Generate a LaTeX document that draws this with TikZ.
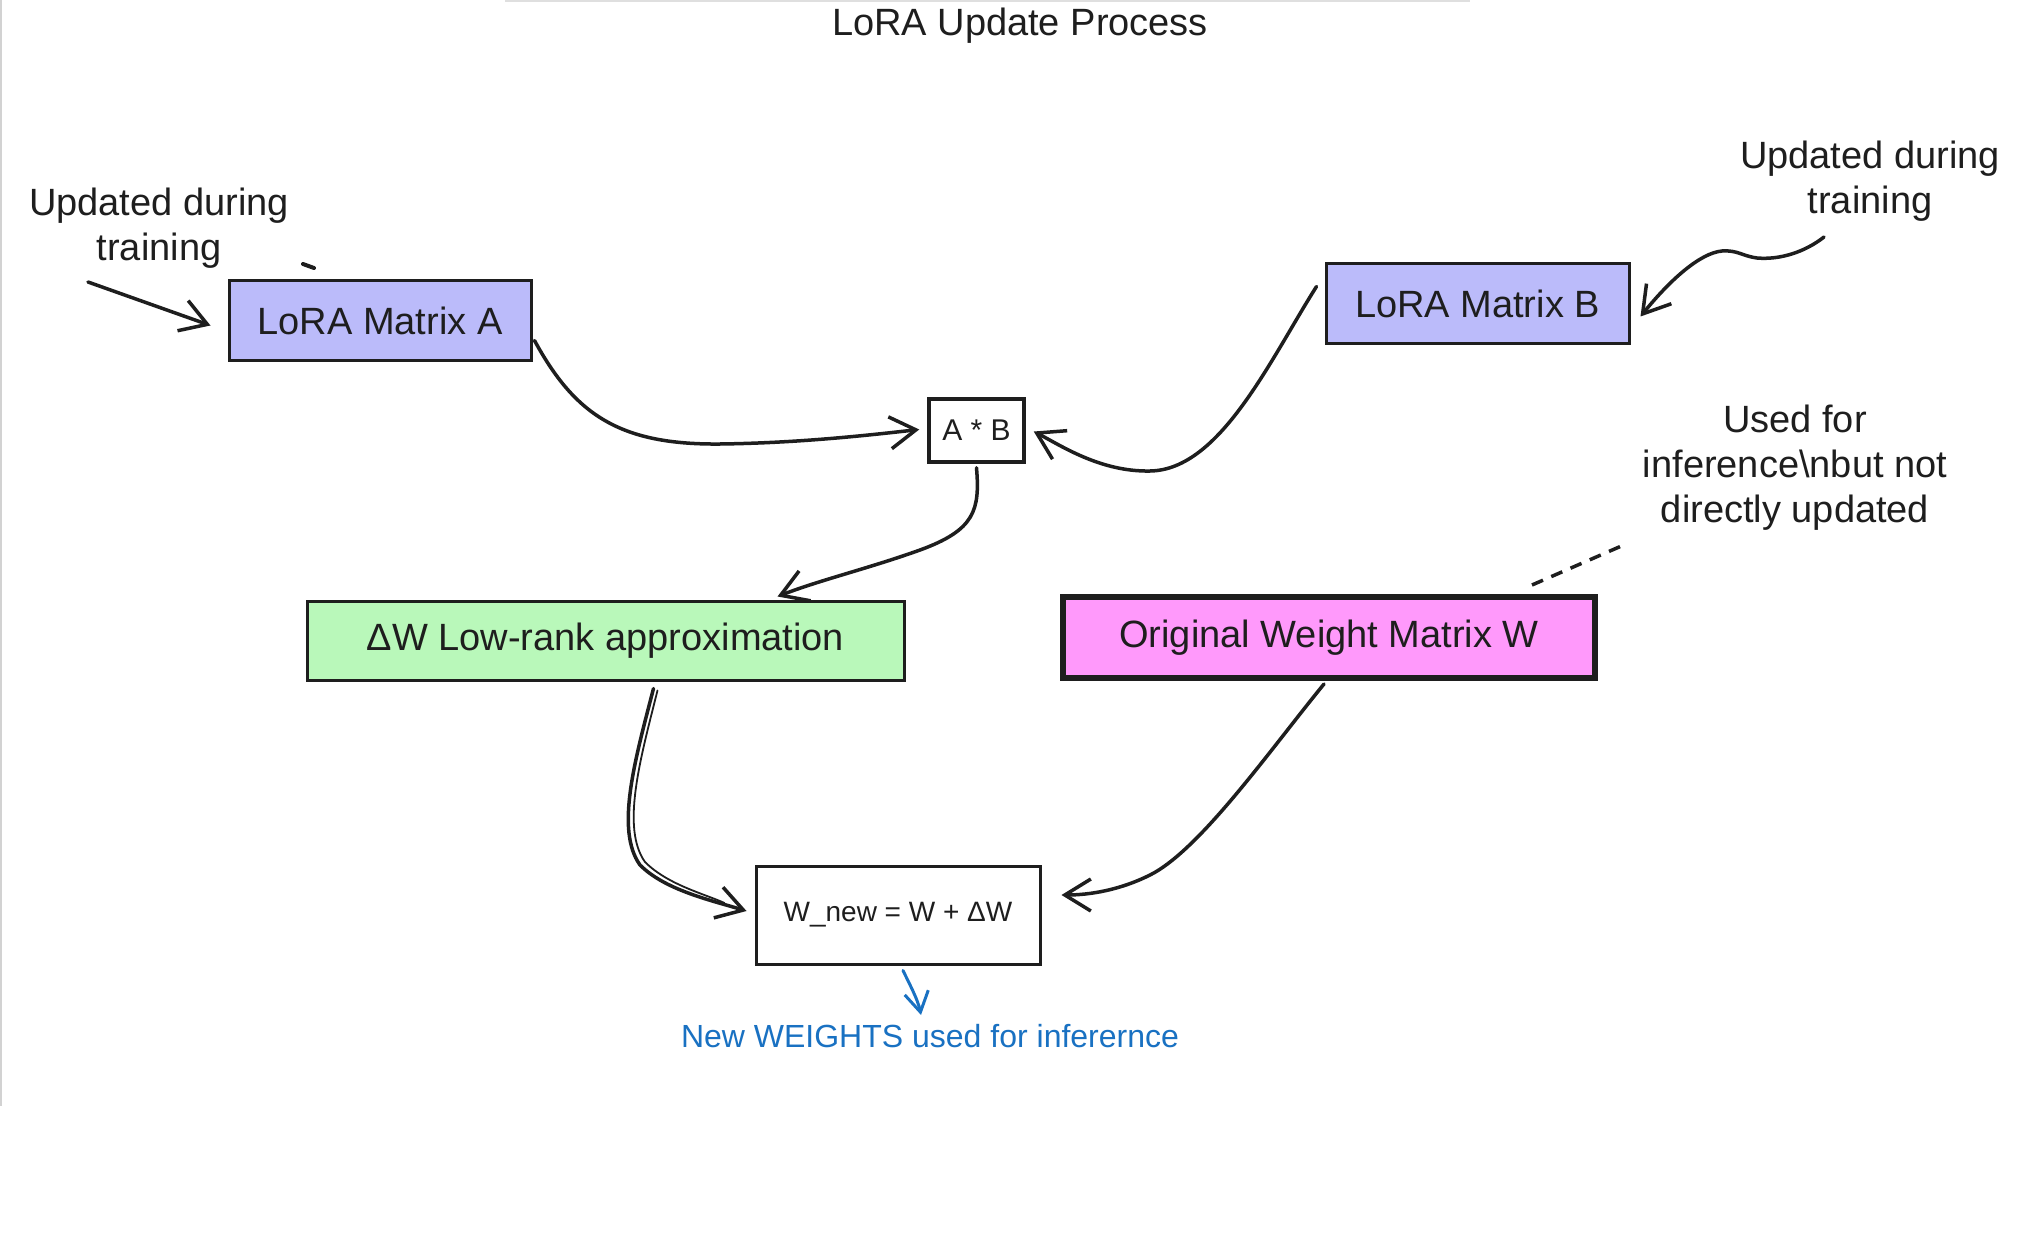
\documentclass[tikz,border=0pt]{standalone}
\usepackage{fontspec}
\setmainfont{Liberation Sans}
\usetikzlibrary{arrows.meta,calc}
\definecolor{lav}{HTML}{BBBBFA}
\definecolor{mint}{HTML}{B9F8BA}
\definecolor{wpink}{HTML}{FF99FB}
\definecolor{exblue}{HTML}{1971C2}
\definecolor{ink}{HTML}{1E1E1E}
\begin{document}
\begin{tikzpicture}[x=1pt,y=-1pt,
  box/.style={draw=ink, line width=3pt, inner sep=0pt, font=\fontsize{38}{44}\selectfont, text=ink},
  conn/.style={draw=ink, line width=3.5pt, -{Straight Barb[length=26pt,width=32pt]}, line cap=round, line join=round},
  note/.style={align=center, font=\fontsize{38}{45}\selectfont, text=ink, inner sep=0pt}]
\fill[white] (0,0) rectangle (2040,1241);
\useasboundingbox (0,0) rectangle (2040,1241);
\draw[gray!35, line width=2pt] (1,0) -- (1,1106);
\draw[gray!25, line width=3pt] (505,1) -- (1470,1);

\node[note] (title) at (1020,26) {LoRA Update Process};

\node[box, fill=lav, minimum width=302pt, minimum height=79pt] (A) at (380,320.5) {LoRA Matrix A};
\node[box, fill=lav, minimum width=303pt, minimum height=79pt] (B) at (1477.5,303.5) {LoRA Matrix B};
\node[box, fill=white, line width=3.5pt, minimum width=95pt, minimum height=63pt, font=\fontsize{30}{36}\selectfont] (AB) at (976.5,430.5) {A * B};
\node[box, fill=mint, minimum width=597pt, minimum height=79pt] (dW) at (605.5,640.5) {ΔW Low-rank approximation};
\node[box, fill=wpink, line width=6pt, minimum width=532pt, minimum height=81pt] (W) at (1329,637.5) {Original Weight Matrix W};
\node[box, fill=white, minimum width=284pt, minimum height=98pt, font=\fontsize{28}{34}\selectfont] (Wn) at (898,915) {W\_new = W + ΔW};

\node[note] (n1) at (159,228) {Updated during\\training};
\node[note] (n2) at (1870,181) {Updated during\\training};
\node[note] (n3) at (1795,468) {Used for\\inference\textbackslash nbut not\\directly updated};
\node[note, text=exblue, font=\fontsize{32}{38}\selectfont] (n4) at (930,1036) {New WEIGHTS used for inferernce};

\coordinate (s1) at (88,282);
\coordinate (s2) at (1824,237);
\coordinate (d2) at (1626,544);
\coordinate (e9) at (921,1015);

\draw[conn] (s1) -- ($(A.west)+(-17,5)$);
\draw[conn] (s2) .. controls (1805,252) and (1780,260) .. (1757,258) .. controls (1742,256) and (1738,250) .. (1722,251) .. controls (1700,253) and (1670,280) .. ($(B.east)+(10,13)$);
\draw[conn] ($(A.east)+(2,20)$) .. controls (575,415) and (620,445) .. (720,444) .. controls (800,443) and (870,435) .. ($(AB.west)+(-8,-1)$);
\draw[conn] ($(B.west)+(-8,-17)$) .. controls (1270,360) and (1220,470) .. (1150,471) .. controls (1100,472) and (1060,445) .. ($(AB.east)+(8,1)$);
\draw[conn] ($(AB.south)+(0,4)$) .. controls (980,510) and (975,530) .. (920,550) .. controls (870,568) and (820,580) .. ($(dW.north)+(172,-3)$);
\draw[conn] ($(dW.south)+(48,7)$) .. controls (635,760) and (615,830) .. (640,865) .. controls (665,890) and (710,900) .. ($(Wn.west)+(-8,-4)$);
\draw[ink, line width=1.8pt, line cap=round] ($(dW.south)+(52,9)$) .. controls (640,760) and (621,828) .. (645,862) .. controls (668,885) and (705,894) .. ($(Wn.west)+(-30,-12)$);
\draw[conn] ($(W.south)+(-5,3)$) .. controls (1270,750) and (1200,850) .. (1150,875) .. controls (1120,890) and (1090,895) .. ($(Wn.east)+(20,-20)$);
\draw[ink, line width=3.5pt, dash pattern=on 12pt off 9pt] ($(W.north east)+(-66,-9)$) -- (d2);
\draw[exblue, line width=3pt, line cap=round, -{Straight Barb[length=20pt,width=24pt]}] ($(Wn.south)+(5,5)$) .. controls (910,985) and (918,1000) .. (e9);
\draw[ink, line width=4pt, line cap=round] (303,264) -- (314,268);
\end{tikzpicture}
\end{document}
